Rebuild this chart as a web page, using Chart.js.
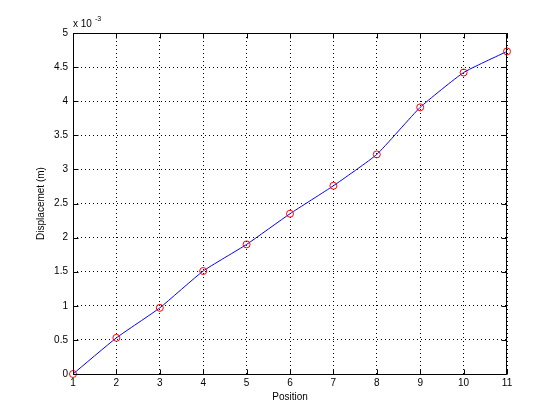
<!DOCTYPE html>
<html>
<head>
<meta charset="utf-8">
<script src="https://cdn.jsdelivr.net/npm/chart.js@4/dist/chart.umd.min.js"></script>
<style>
  body { margin: 0; background: #fff; }
  canvas { display: block; }
</style>
</head>
<body>
<canvas id="myChart" width="560" height="420"></canvas>
<script>
// displacement values are in units of 10^-3 m
const positions = [1, 2, 3, 4, 5, 6, 7, 8, 9, 10, 11];
const displacement = [0, 0.53, 0.97, 1.51, 1.90, 2.35, 2.76, 3.22, 3.91, 4.42, 4.73];
const xTicks = [1, 2, 3, 4, 5, 6, 7, 8, 9, 10, 11];
const yTicks = [0, 0.5, 1, 1.5, 2, 2.5, 3, 3.5, 4, 4.5, 5];
const yExponent = '-3';

Chart.defaults.font.family = "'Liberation Sans', Arial, sans-serif";
Chart.defaults.font.size = 10;
Chart.defaults.color = '#000';

// box around the axes, inward tick marks and the "x 10^-3" multiplier
const matlabBox = {
  id: 'matlabBox',
  afterDraw(chart) {
    const { ctx, chartArea: a, scales } = chart;
    const l = Math.round(a.left) + 0.5, r = Math.round(a.right) - 0.5;
    const t = Math.round(a.top) + 0.5, b = Math.round(a.bottom) + 0.5;
    ctx.save();
    ctx.strokeStyle = '#000';
    ctx.lineWidth = 1;
    ctx.setLineDash([]);
    ctx.beginPath();
    ctx.rect(l, t, r - l, b - t);
    xTicks.forEach(v => {
      const x = Math.round(scales.x.getPixelForValue(v)) + 0.5;
      ctx.moveTo(x, b); ctx.lineTo(x, b - 5);
      ctx.moveTo(x, t); ctx.lineTo(x, t + 5);
    });
    yTicks.forEach(v => {
      const y = Math.round(scales.y.getPixelForValue(v)) + 0.5;
      ctx.moveTo(l, y); ctx.lineTo(l + 5, y);
      ctx.moveTo(r, y); ctx.lineTo(r - 5, y);
    });
    ctx.stroke();

    ctx.fillStyle = '#000';
    ctx.textBaseline = 'alphabetic';
    ctx.textAlign = 'left';
    ctx.font = "10px 'Liberation Sans', Arial, sans-serif";
    ctx.fillText('x 10', a.left, a.top - 6);
    const w = ctx.measureText('x 10').width;
    ctx.font = "7px 'Liberation Sans', Arial, sans-serif";
    ctx.fillText(yExponent, a.left + w + 3, a.top - 12);
    ctx.restore();
  }
};

new Chart(document.getElementById('myChart'), {
  type: 'line',
  data: {
    datasets: [{
      data: positions.map((p, i) => ({ x: p, y: displacement[i] })),
      borderColor: '#0000ff',
      borderWidth: 1,
      tension: 0.15,
      pointStyle: 'circle',
      pointRadius: 3.5,
      pointBorderWidth: 1,
      pointBorderColor: '#ff0000',
      pointBackgroundColor: 'rgba(0,0,0,0)',
      pointHoverRadius: 3.5,
      clip: false
    }]
  },
  plugins: [matlabBox],
  options: {
    responsive: false,
    animation: false,
    devicePixelRatio: 1,
    layout: {
      padding: { left: 0, right: 53, top: 33, bottom: 0 }
    },
    scales: {
      x: {
        type: 'linear',
        min: 1,
        max: 11,
        afterFit(scale) { scale.height = 46; },
        afterBuildTicks(scale) { scale.ticks = xTicks.map(v => ({ value: v })); },
        ticks: {
          padding: 3,
          maxRotation: 0,
          callback: v => String(v)
        },
        grid: {
          color: '#000',
          lineWidth: 1,
          drawTicks: false
        },
        border: {
          display: false,
          dash: [1, 3]
        },
        title: {
          display: true,
          text: 'Position',
          padding: { top: 0, bottom: 17 }
        }
      },
      y: {
        min: 0,
        max: 5,
        afterFit(scale) { scale.width = 73; },
        afterBuildTicks(scale) { scale.ticks = yTicks.map(v => ({ value: v })); },
        ticks: {
          padding: 5,
          callback: v => String(v)
        },
        grid: {
          color: '#000',
          lineWidth: 1,
          drawTicks: false
        },
        border: {
          display: false,
          dash: [1, 3]
        },
        title: {
          display: true,
          text: 'Displacemet (m)',
          padding: { top: 35, bottom: 0 }
        }
      }
    },
    plugins: {
      legend: { display: false },
      tooltip: { enabled: false }
    }
  }
});
</script>
</body>
</html>
